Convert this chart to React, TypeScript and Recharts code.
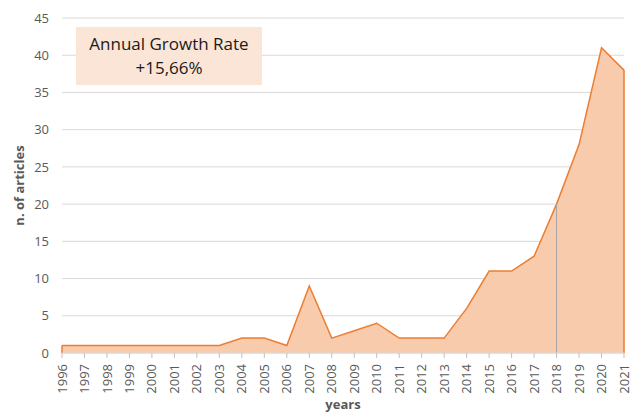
import React from 'react';
import { AreaChart, Area, XAxis, YAxis, CartesianGrid, ReferenceLine, Label } from 'recharts';

const years = ['1996','1997','1998','1999','2000','2001','2002','2003','2004','2005','2006','2007','2008','2009','2010','2011','2012','2013','2014','2015','2016','2017','2018','2019','2020','2021'];
const articles = [1,1,1,1,1,1,1,1,2,2,1,9,2,3,4,2,2,2,6,11,11,13,20,28,41,38];
const yTicks = [0,5,10,15,20,25,30,35,40,45];
const highlightYear = '2018';
const annotationLines = ['Annual Growth Rate', '+15,66%'];

const data = years.map((y, i) => ({ year: y, value: articles[i] }));
const highlightValue = articles[years.indexOf(highlightYear)];

const FONT = '"Open Sans", "Liberation Sans", sans-serif';

const XTick = (props: any) => {
  const { x, y, payload } = props;
  return (
    <text
      x={0}
      y={0}
      transform={`translate(${x},${y + 4}) rotate(-90)`}
      textAnchor="end"
      dy="0.35em"
      fontSize={13}
      fill="#595959"
      fontFamily={FONT}
    >
      {payload.value}
    </text>
  );
};

export default function App() {
  return (
    <div style={{ position: 'absolute', left: 0, top: 0, width: 634, height: 412, background: '#fff' }}>
      <AreaChart width={634} height={412} data={data} margin={{ top: 18, right: 10, left: 0, bottom: 0 }}>
        <CartesianGrid vertical={false} stroke="#D9D9D9" />
        <XAxis
          dataKey="year"
          height={59}
          interval={0}
          tick={<XTick />}
          tickLine={{ stroke: '#BFBFBF' }}
          tickSize={5}
          axisLine={{ stroke: '#D9D9D9' }}
        >
          <Label value="years" position="insideBottom" offset={3} style={{ fontFamily: FONT, fontWeight: 700, fontSize: 13, fill: '#595959' }} />
        </XAxis>
        <YAxis
          width={62}
          domain={[0, 45]}
          ticks={yTicks}
          axisLine={false}
          tickLine={false}
          tickMargin={7}
          tick={{ fontSize: 13, fill: '#595959', fontFamily: FONT }}
        >
          <Label value="n. of articles" angle={-90} position="insideLeft" offset={19} style={{ textAnchor: 'middle', fontFamily: FONT, fontWeight: 700, fontSize: 13, fill: '#595959' }} />
        </YAxis>
        <Area
          type="linear"
          dataKey="value"
          stroke="#ED7D31"
          strokeWidth={1.5}
          fill="#F8CBAD"
          fillOpacity={1}
          isAnimationActive={false}
        />
        <ReferenceLine segment={[{ x: highlightYear, y: 0 }, { x: highlightYear, y: highlightValue }]} stroke="#A6A6A6" strokeWidth={1} />
        <ReferenceLine segment={[{ x: years[0], y: 0 }, { x: years[0], y: articles[0] }]} stroke="#ED7D31" strokeWidth={1.5} />
        <ReferenceLine segment={[{ x: years[years.length - 1], y: 0 }, { x: years[years.length - 1], y: articles[articles.length - 1] }]} stroke="#ED7D31" strokeWidth={1.5} />
      </AreaChart>
      <div
        style={{
          position: 'absolute',
          left: 76,
          top: 27,
          width: 186,
          height: 58,
          background: '#FBE5D6',
          display: 'flex',
          flexDirection: 'column',
          alignItems: 'center',
          justifyContent: 'center',
          fontFamily: FONT,
          fontSize: 17,
          lineHeight: '24px',
          color: '#1a1a1a',
        }}
      >
        {annotationLines.map((t) => (
          <div key={t}>{t}</div>
        ))}
      </div>
    </div>
  );
}
